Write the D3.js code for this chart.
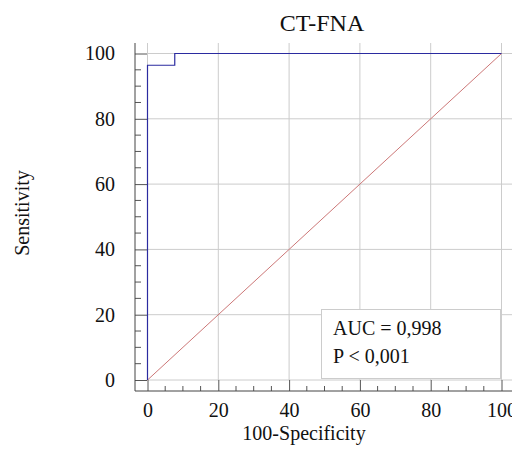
<!DOCTYPE html>
<html>
<head>
<meta charset="utf-8">
<script src="https://cdn.jsdelivr.net/npm/d3@7.9.0/dist/d3.min.js"></script>
<style>
  body { margin: 0; background: #fff; }
  svg text { font-family: "Liberation Serif", "Times New Roman", serif; fill: #111; }
</style>
</head>
<body>
<svg width="512" height="455"></svg>
<script>
// ROC curve points (100-Specificity, Sensitivity)
const specPoints = [0, 0, 7.7, 7.7, 100];
const sensPoints = [0, 96.4, 96.4, 100, 100];
const refLine = [0, 100];
const xTicks = [0, 20, 40, 60, 80, 100];
const yTicks = [0, 20, 40, 60, 80, 100];
const minorTicks = d3.range(0, 101, 5).filter(d => d % 20 !== 0);
const legendLines = ['AUC = 0,998', 'P < 0,001'];

const svg = d3.select('svg');

let x = d3.scaleLinear().domain([0, 100]).range([147.5, 501.5]);
let y = d3.scaleLinear().domain([0, 100]).range([380, 53.5]);

const axisX = 135, axisY = 391, plotTop = 43, plotRight = 512;

// grid
svg.append('g').selectAll('line').data(xTicks).join('line')
  .attr('x1', d => x(d)).attr('x2', d => x(d))
  .attr('y1', plotTop).attr('y2', y(0))
  .attr('stroke', '#cccccc');
svg.append('g').selectAll('line').data(yTicks).join('line')
  .attr('x1', x(0)).attr('x2', plotRight)
  .attr('y1', d => y(d)).attr('y2', d => y(d))
  .attr('stroke', '#cccccc');

// x axis
let gx = svg.append('g').attr('transform', `translate(0,${axisY})`)
  .call(d3.axisBottom(x).tickValues(xTicks).tickSizeInner(-11).tickSizeOuter(0).tickPadding(12));
gx.select('.domain').remove();
gx.selectAll('line').attr('stroke', '#555');
gx.selectAll('text').attr('font-size', 20);
svg.append('g').selectAll('line').data(minorTicks).join('line')
  .attr('x1', d => x(d)).attr('x2', d => x(d))
  .attr('y1', axisY).attr('y2', axisY - 5)
  .attr('stroke', '#555');
svg.append('line').attr('x1', axisX).attr('x2', plotRight)
  .attr('y1', axisY).attr('y2', axisY).attr('stroke', '#444');

// y axis
let gy = svg.append('g').attr('transform', `translate(${axisX},0)`)
  .call(d3.axisLeft(y).tickValues(yTicks).tickSizeInner(-12).tickSizeOuter(0).tickPadding(20));
gy.select('.domain').remove();
gy.selectAll('line').attr('stroke', '#555');
gy.selectAll('text').attr('font-size', 20);
svg.append('g').selectAll('line').data(minorTicks).join('line')
  .attr('x1', axisX).attr('x2', axisX + 6)
  .attr('y1', d => y(d)).attr('y2', d => y(d))
  .attr('stroke', '#555');
svg.append('line').attr('x1', axisX).attr('x2', axisX)
  .attr('y1', plotTop).attr('y2', axisY).attr('stroke', '#444');

// reference diagonal
svg.append('path')
  .attr('d', d3.line().x(d => x(d)).y(d => y(d))(refLine))
  .attr('fill', 'none').attr('stroke', '#cc7777').attr('stroke-width', 1);

// ROC curve
let rocData = specPoints.map((s, i) => [s, sensPoints[i]]);
svg.append('path')
  .attr('d', d3.line().x(d => x(d[0])).y(d => y(d[1]))(rocData))
  .attr('fill', 'none').attr('stroke', '#2b2ba0').attr('stroke-width', 1.2);

// legend box
svg.append('rect')
  .attr('x', 321.5).attr('y', 309.5).attr('width', 179).attr('height', 69)
  .attr('fill', '#fff').attr('stroke', '#cccccc');
svg.append('g').selectAll('text').data(legendLines).join('text')
  .attr('x', 333).attr('y', (d, i) => 335 + i * 28)
  .attr('font-size', 20).text(d => d);

// titles
svg.append('text').attr('x', 322).attr('y', 31)
  .attr('text-anchor', 'middle').attr('font-size', 24).text('CT-FNA');
svg.append('text').attr('x', 304).attr('y', 440)
  .attr('text-anchor', 'middle').attr('font-size', 20).text('100-Specificity');
svg.append('text').attr('transform', 'translate(29,213) rotate(-90)')
  .attr('text-anchor', 'middle').attr('font-size', 20).text('Sensitivity');
</script>
</body>
</html>
